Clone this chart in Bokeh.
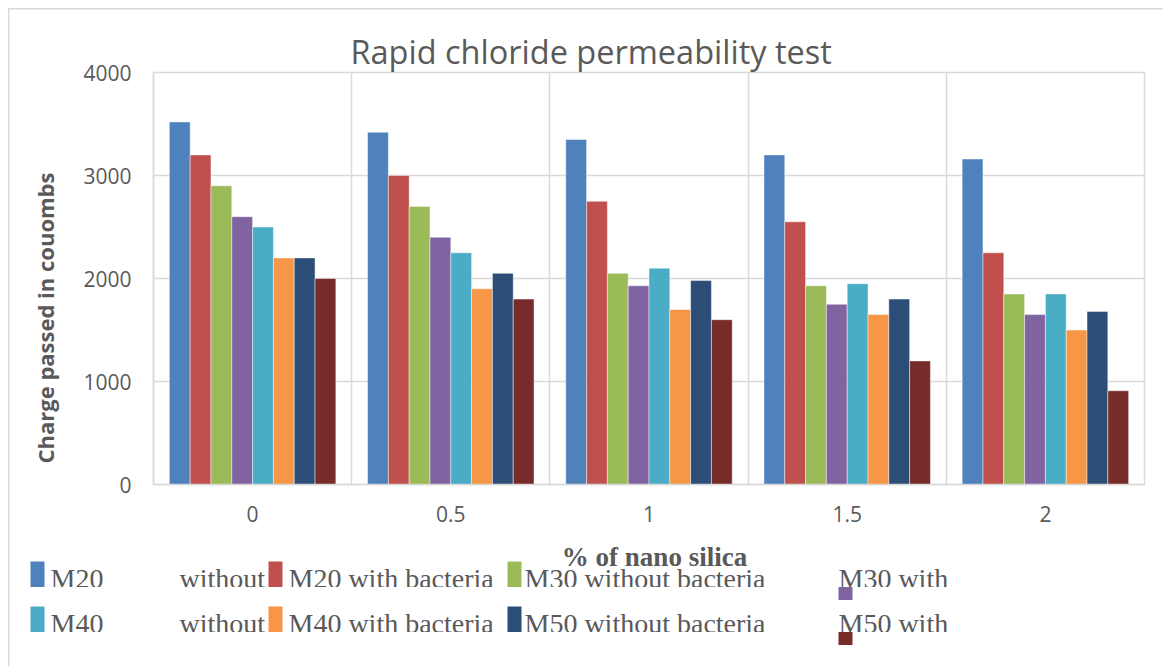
from bokeh.plotting import figure
from bokeh.models import Range1d, FixedTicker, ColumnDataSource, Title
from bokeh.transform import dodge
from bokeh.core.properties import value
from bokeh.embed import file_html
from bokeh.resources import INLINE

categories = ["0", "0.5", "1", "1.5", "2"]
series_names = ["M20 without bacteria", "M20 with bacteria", "M30 without bacteria", "M30 with bacteria",
                "M40 without bacteria", "M40 with bacteria", "M50 without bacteria", "M50 with bacteria"]
m20_without = [3520, 3420, 3350, 3200, 3160]
m20_with = [3200, 3000, 2750, 2550, 2250]
m30_without = [2900, 2700, 2050, 1930, 1850]
m30_with = [2600, 2400, 1930, 1750, 1650]
m40_without = [2500, 2250, 2100, 1950, 1850]
m40_with = [2200, 1900, 1700, 1650, 1500]
m50_without = [2200, 2050, 1980, 1800, 1680]
m50_with = [2000, 1800, 1600, 1200, 910]
colors = ["#4F81BD", "#C0504D", "#9BBB59", "#8064A2", "#4BACC6", "#F79646", "#2C4D75", "#772C2A"]
y_ticks = [0, 1000, 2000, 3000, 4000]
# legend labels as they appear (truncated) in the reference
legend_text = [["M20", "without"], ["M20 with bacteria"], ["M30 without bacteria"], ["M30 with"],
               ["M40", "without"], ["M40 with bacteria"], ["M50 without bacteria"], ["M50 with"]]

series_values = [m20_without, m20_with, m30_without, m30_with, m40_without, m40_with, m50_without, m50_with]
keys = ["s%d" % i for i in range(len(series_names))]
data = {"x": list(range(len(categories)))}
for k, v in zip(keys, series_values):
    data[k] = v
src = ColumnDataSource(data)

TXT = "#595959"
GRID = "#d9d9d9"
W, H1, H2 = 1163, 540, 126

p = figure(width=W, height=H1, x_range=Range1d(-0.5, 4.5), y_range=Range1d(0, 4000),
           output_backend="svg", toolbar_location=None,
           min_border_left=153, min_border_right=19, min_border_top=72, min_border_bottom=H1 - 484)
p.outline_line_color = GRID
p.outline_line_width = 1.5
p.background_fill_color = "white"
p.border_fill_color = None
p.styles = {"box-shadow": "inset 8px 8px 0 0 white, inset 9.5px 9.5px 0 0 #d9d9d9"}

p.title.text = "Rapid chloride permeability test"
p.title.text_font = "Open Sans"
p.title.text_font_size = "32.5px"
p.title.text_font_style = "normal"
p.title.text_color = TXT
p.title.align = "left"
p.title.offset = 197
p.title.standoff = -2

# grid
p.ygrid.ticker = FixedTicker(ticks=y_ticks)
p.ygrid.grid_line_color = GRID
p.ygrid.grid_line_width = 1.5
p.xgrid.ticker = FixedTicker(ticks=[i + 0.5 for i in range(len(categories) - 1)])
p.xgrid.grid_line_color = GRID
p.xgrid.grid_line_width = 1.5

# axes
p.yaxis.ticker = FixedTicker(ticks=y_ticks)
p.yaxis.major_tick_line_color = None
p.yaxis.minor_tick_line_color = None
p.yaxis.major_tick_out = 0
p.yaxis.axis_line_color = GRID
p.yaxis.axis_line_width = 1.5
p.yaxis.major_label_text_font = "Open Sans"
p.yaxis.major_label_text_font_size = "21px"
p.yaxis.major_label_text_color = TXT
p.yaxis.major_label_standoff = 22

# y-axis title (placed like the reference: lower than the frame centre)
ytitle = Title(text="Charge passed in couombs", align="left", offset=21, standoff=42,
               text_font="Open Sans", text_font_style="bold", text_font_size="22px", text_color=TXT)
p.add_layout(ytitle, "left")

p.xaxis.ticker = FixedTicker(ticks=list(range(len(categories))))
p.xaxis.major_label_overrides = {i: c for i, c in enumerate(categories)}
p.xaxis.major_tick_line_color = None
p.xaxis.minor_tick_line_color = None
p.xaxis.major_tick_out = 0
p.xaxis.axis_line_color = GRID
p.xaxis.axis_line_width = 1.5
p.xaxis.major_label_text_font = "Open Sans"
p.xaxis.major_label_text_font_size = "21px"
p.xaxis.major_label_text_color = TXT
p.xaxis.major_label_standoff = 21

# bars
bw = 0.105
n = len(series_names)
for i, (k, c) in enumerate(zip(keys, colors)):
    off = (i - (n - 1) / 2) * bw
    p.vbar(x=dodge("x", off, range=p.x_range), top=k, width=bw, source=src,
           fill_color=c, line_color="white", line_alpha=0.45, line_width=1)

# ---- lower panel: x-axis title and legend (page pixel coordinates) ----
q = figure(width=W, height=H2, x_range=Range1d(0, W), y_range=Range1d(H1 + H2, H1),
           output_backend="svg", toolbar_location=None,
           x_axis_location=None, y_axis_location=None,
           min_border_left=0, min_border_right=0, min_border_top=0, min_border_bottom=0)
q.outline_line_color = None
q.grid.visible = False
q.background_fill_color = None
q.border_fill_color = None
q.styles = {"box-shadow": "inset 8px 0 0 0 white, inset 9.5px 0 0 0 #d9d9d9"}

TEXT_SHIFT = -9  # svg text baseline correction
q.text(x=[654], y=[565 + TEXT_SHIFT], text=["% of nano silica"], text_align="center", text_baseline="alphabetic",
       text_font=value("Liberation Serif"), text_font_style="bold", text_font_size="27px", text_color=TXT)

col_swatch_x = [30, 268, 507, 838]
col_text_x = [[50, 179], [288], [524], [838]]
row_top = [561, 606]
row_clip = [586.5, 631.5]
sw = 14

tx, ty, tt = [], [], []
sl, sr, st, sb, sc = [], [], [], [], []
for row in range(2):
    for col in range(4):
        idx = row * 4 + col
        for t, x0 in zip(legend_text[idx], col_text_x[col]):
            tx.append(x0); ty.append(row_clip[row] + 0.5 + TEXT_SHIFT); tt.append(t)
        if col < 3:
            sl.append(col_swatch_x[col]); sr.append(col_swatch_x[col] + sw)
            st.append(row_top[row]); sb.append(row_clip[row]); sc.append(colors[idx])

q.text(x=tx, y=ty, text=tt, text_align="left", text_baseline="alphabetic",
       text_font=value("Liberation Serif"), text_font_size="28px", text_color=TXT)
q.quad(left=sl, right=sr, top=st, bottom=sb, fill_color=sc, line_color=None)
# legend entries are cut off at their lower edge in the reference
q.quad(left=[20, 20], right=[1150, 1150], top=row_clip, bottom=[r + 14 for r in row_clip],
       fill_color="white", line_color=None)
q.quad(left=[col_swatch_x[3]] * 2, right=[col_swatch_x[3] + sw] * 2, top=row_clip,
       bottom=[r + 13 for r in row_clip], fill_color=[colors[3], colors[7]], line_color=None)

open("out.html", "w").write(file_html([p, q], INLINE))
